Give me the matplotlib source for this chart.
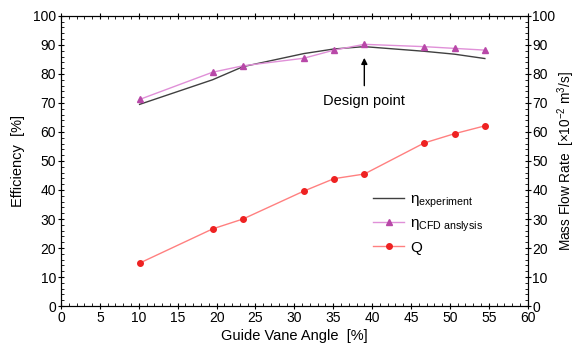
import matplotlib.pyplot as plt
from matplotlib.ticker import MultipleLocator

plt.rcParams['font.family'] = ['Liberation Sans', 'DejaVu Sans']
plt.rcParams['mathtext.fontset'] = 'custom'
plt.rcParams['mathtext.rm'] = 'Liberation Sans'
plt.rcParams['mathtext.it'] = 'Liberation Sans'

# data
angle = [10.1, 19.5, 23.4, 31.2, 35.1, 39.0, 46.7, 50.6, 54.5]
eta_exp = [69.5, 78.0, 82.5, 87.0, 88.6, 89.4, 87.8, 86.8, 85.3]
eta_cfd = [71.2, 80.6, 82.8, 85.4, 88.2, 90.2, 89.4, 88.8, 88.2]
flow_q = [14.8, 26.6, 30.0, 39.6, 43.9, 45.5, 56.2, 59.4, 62.1]

fig = plt.figure(figsize=(5.76, 3.53), dpi=100)
ax = fig.add_axes([0.106, 0.133, 0.810, 0.822])
ax2 = ax.twinx()

l1, = ax.plot(angle, eta_exp, color='#404040', lw=1.0)
l2, = ax.plot(angle, eta_cfd, color='#e090d8', lw=1.0, marker='^', ms=5,
              mfc='#b848a8', mec='#b848a8')
l3, = ax2.plot(angle, flow_q, color='#ff8080', lw=1.0, marker='o', ms=4,
               mfc='#ee2222', mec='#ee2222')

ax.set_xlim(0, 60)
ax.set_ylim(0, 100)
ax2.set_ylim(0, 100)

for a in (ax, ax2):
    a.xaxis.set_major_locator(MultipleLocator(5))
    a.xaxis.set_minor_locator(MultipleLocator(1))
    a.yaxis.set_major_locator(MultipleLocator(10))
    a.yaxis.set_minor_locator(MultipleLocator(2))
    a.tick_params(which='major', direction='inout', length=5, width=0.8,
                  labelsize=10, pad=1)
    a.tick_params(which='minor', direction='in', length=2.5, width=0.6)
    for s in a.spines.values():
        s.set_linewidth(0.8)
ax.tick_params(which='both', top=True)

ax.set_xlabel('Guide Vane Angle  [%]', fontsize=10.5, labelpad=3)
ax.set_ylabel('Efficiency  [%]', fontsize=10.5, labelpad=6)
ax2.set_ylabel('Mass Flow Rate  [$\\times$10$^{-2}$ m$^{3}$/s]', fontsize=9.8,
               labelpad=0)

ax.annotate('', xy=(39.0, 86.5), xytext=(39.0, 75.0),
            arrowprops=dict(arrowstyle='-|>', color='black', lw=1.0,
                            mutation_scale=9))
ax.text(39.0, 70.5, 'Design point', ha='center', va='center', fontsize=10.5)

leg = ax.legend([l1, l2, l3],
                ['$\\eta_{\\mathrm{experiment}}$', '$\\eta_{\\mathrm{CFD\\ anslysis}}$', 'Q'],
                loc='upper left', bbox_to_anchor=(0.64, 0.44), frameon=False,
                fontsize=11, handlelength=2.0, labelspacing=0.45,
                handletextpad=0.4)

fig.savefig('out.png', dpi=100)
